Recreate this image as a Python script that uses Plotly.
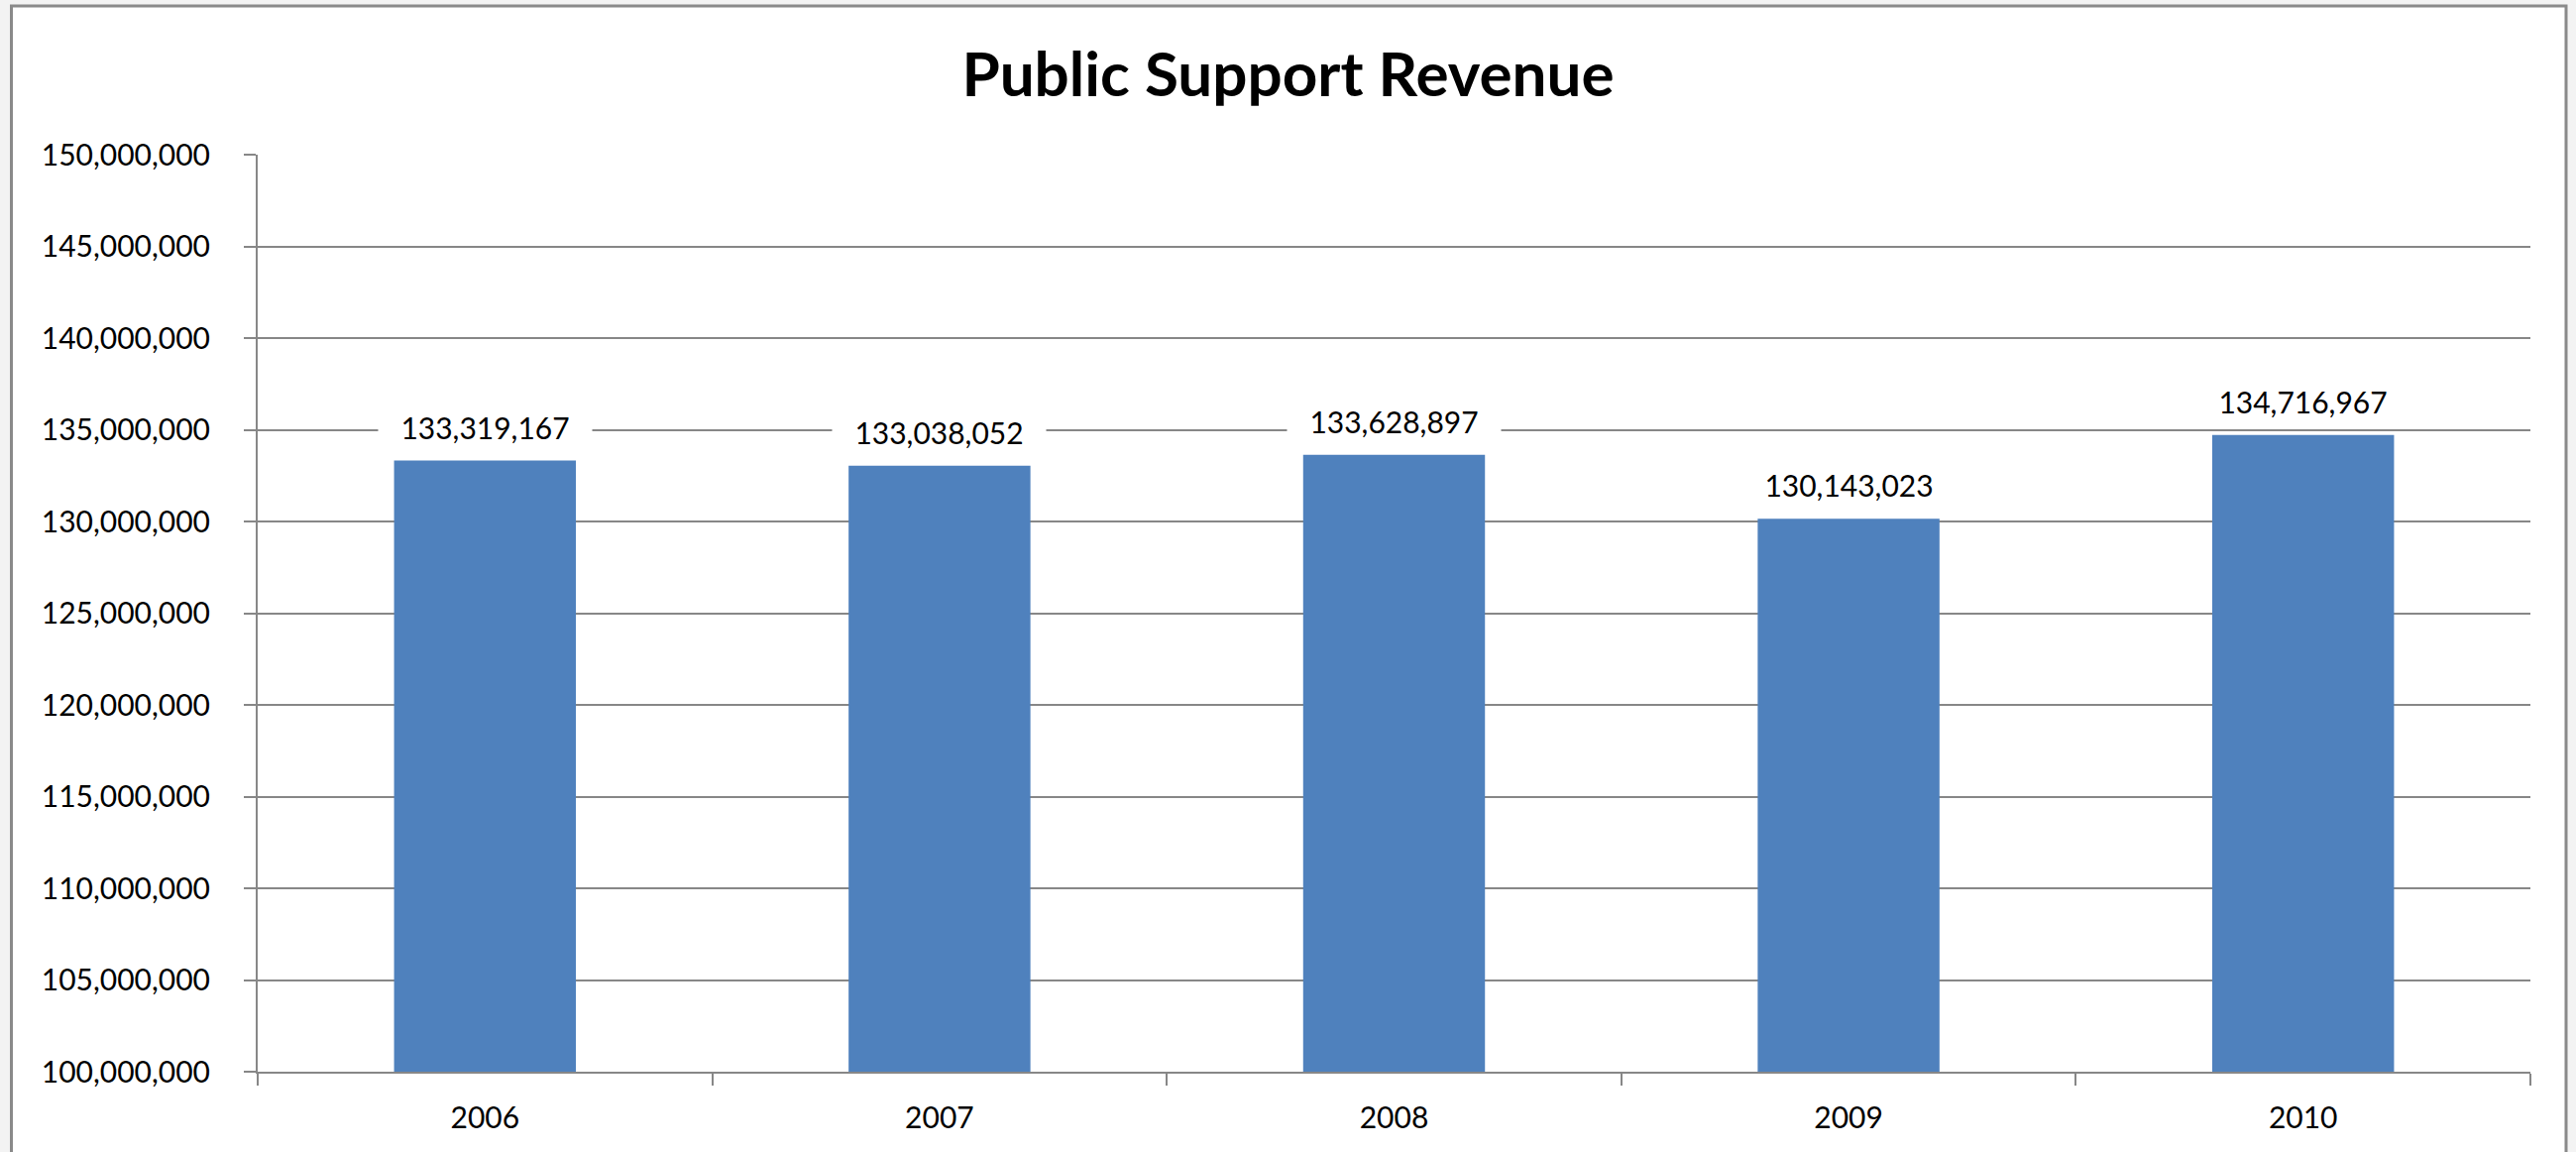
import plotly.graph_objects as go

# Public support revenue by fiscal year
years = ["2006", "2007", "2008", "2009", "2010"]
revenue = [133319167, 133038052, 133628897, 130143023, 134716967]

# y-axis scale
y_min, y_max, y_step = 100_000_000, 150_000_000, 5_000_000

TITLE = "Public Support Revenue"

# page and plot-area geometry (pixels)
W, H = 2599, 1162
M_L, M_R, M_T, M_B = 260, 46, 156, 81
PLOT_W = W - M_L - M_R
PLOT_H = H - M_T - M_B

# chart frame edges (pixels from the page's top-left)
FRAME_L, FRAME_R, FRAME_T, FRAME_B = 11.5, 2589, 6, 1200


def px_to_paper_x(px):
    return (px - M_L) / PLOT_W


def px_to_paper_y(py):
    return (H - M_B - py) / PLOT_H


BAR_BLUE = "#4F81BD"
GRID = "#878787"
FONT = "Lato"

fig = go.Figure()
fig.add_trace(
    go.Bar(
        x=years,
        y=revenue,
        marker=dict(color=BAR_BLUE, line=dict(width=0)),
        hoverinfo="x+y",
    )
)

# value labels above each bar, on a white box that breaks the gridline
# (category axis: annotations are placed by category index)
for i, v in enumerate(revenue):
    fig.add_annotation(
        x=i,
        y=v,
        xref="x",
        yref="y",
        text=f"{v:,}",
        showarrow=False,
        yanchor="bottom",
        yshift=15,
        bgcolor="white",
        width=215,
        borderpad=0,
        font=dict(family=FONT, size=30, color="#000000"),
    )

# white chart frame with grey border
fig.add_shape(
    type="rect",
    xref="paper",
    yref="paper",
    x0=px_to_paper_x(FRAME_L),
    x1=px_to_paper_x(FRAME_R),
    y0=px_to_paper_y(FRAME_B),
    y1=px_to_paper_y(FRAME_T),
    fillcolor="white",
    line=dict(color="#8a8a8a", width=3),
    layer="below",
)

fig.update_layout(
    width=W,
    height=H,
    margin=dict(l=M_L, r=M_R, t=M_T, b=M_B, pad=0),
    paper_bgcolor="#f3f3f3",
    plot_bgcolor="rgba(0,0,0,0)",
    bargap=0.6,
    showlegend=False,
    title=dict(
        text=f"<b>{TITLE}</b>",
        x=0.5,
        xref="container",
        xanchor="center",
        y=1 - 75 / H,
        yref="container",
        yanchor="middle",
        font=dict(family=FONT, size=62, color="#000000"),
    ),
    xaxis=dict(
        type="category",
        categoryorder="array",
        categoryarray=years,
        tickson="boundaries",
        ticks="outside",
        ticklen=12,
        tickwidth=2,
        tickcolor=GRID,
        showline=True,
        linecolor=GRID,
        linewidth=2,
        showgrid=False,
        tickangle=0,
        tickfont=dict(family=FONT, size=30, color="#000000"),
        ticklabelstandoff=19,
        fixedrange=True,
    ),
    yaxis=dict(
        range=[y_min, y_max],
        dtick=y_step,
        tick0=y_min,
        tickformat=",d",
        ticks="outside",
        ticklen=12,
        tickwidth=2,
        tickcolor=GRID,
        showline=True,
        linecolor=GRID,
        linewidth=2,
        showgrid=True,
        gridcolor=GRID,
        gridwidth=2,
        zeroline=False,
        tickfont=dict(family=FONT, size=30, color="#000000"),
        ticklabelstandoff=28,
        fixedrange=True,
    ),
)

fig.write_html("out.html")
